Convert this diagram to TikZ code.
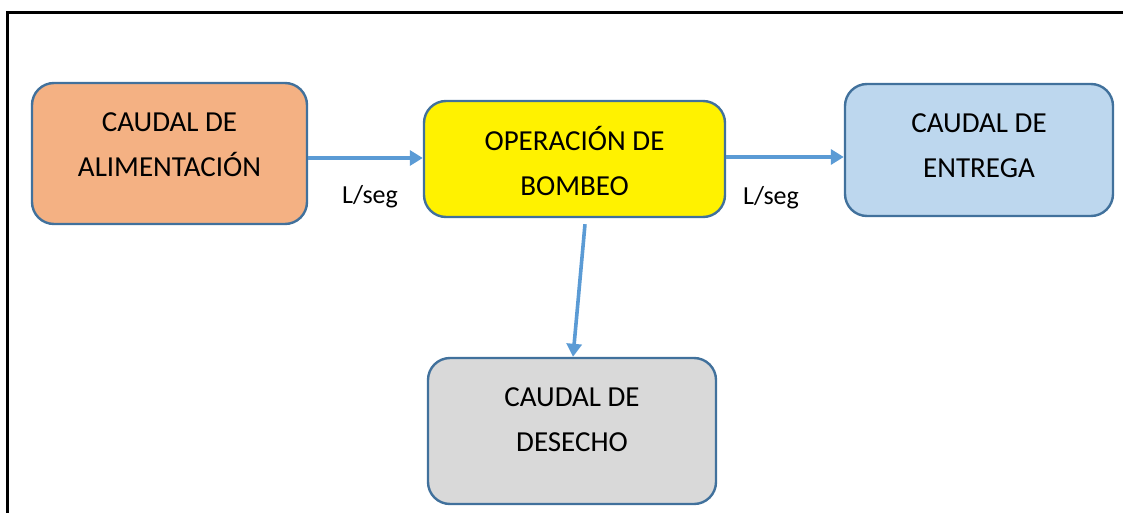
\documentclass[tikz,border=0pt]{standalone}
\usepackage{fontspec}
\setmainfont{Carlito}
\usetikzlibrary{arrows.meta,positioning}
\definecolor{boxline}{RGB}{65,113,156}
\definecolor{flowblue}{RGB}{91,155,213}
\definecolor{alimfill}{RGB}{244,177,131}
\definecolor{entrfill}{RGB}{189,215,238}
\definecolor{desefill}{RGB}{217,217,217}
\begin{document}
\begin{tikzpicture}[x=1pt,y=-1pt,
  box/.style={draw=boxline,line width=2.4pt,rounded corners=22pt,inner sep=0pt},
  boxtext/.style={align=center,font=\fontsize{29}{45}\selectfont},
  flow/.style={draw=flowblue,line width=3.6pt,-{Triangle[length=13pt,width=15pt]}},
  rate/.style={font=\fontsize{26}{28}\selectfont}]
\useasboundingbox (0,0) rectangle (1123,513);

% frame
\draw[line width=3pt] (7.5,513) -- (7.5,12.5) -- (1123,12.5);

% boxes
\node[box,fill=alimfill,minimum width=275pt,minimum height=141pt] (alim) at (169.5,153.5) {};
\node[box,fill=yellow,minimum width=301pt,minimum height=116pt] (bomb) at (574.5,159) {};
\node[box,fill=entrfill,minimum width=268pt,minimum height=132pt] (entr) at (979,150) {};
\node[box,fill=desefill,minimum width=288pt,minimum height=146pt] (dese) at (572,431) {};

% texts
\node[boxtext] (alimtxt) at ([yshift=9pt]alim.center) {CAUDAL DE\\ALIMENTACIÓN};
\node[boxtext] (bombtxt) at ([yshift=-1.5pt]bomb.center) {OPERACIÓN DE\\BOMBEO};
\node[boxtext] (entrtxt) at ([yshift=4.5pt]entr.center) {CAUDAL DE\\ENTREGA};
\node[boxtext] (desetxt) at ([yshift=11pt]dese.center) {CAUDAL DE\\DESECHO};

% flows
\draw[flow] ([yshift=-4.5pt]alim.east) -- ([yshift=1pt]bomb.west);
\draw[flow] ([yshift=2pt]bomb.east) -- ([yshift=-7pt]entr.west);
\draw[flow] ([xshift=10.5pt,yshift=-6pt]bomb.south) -- ([xshift=1pt]dese.north);

% rates
\node[rate] (rate1) at (370,197) {L/seg};
\node[rate] (rate2) at (771,198) {L/seg};
\end{tikzpicture}
\end{document}
